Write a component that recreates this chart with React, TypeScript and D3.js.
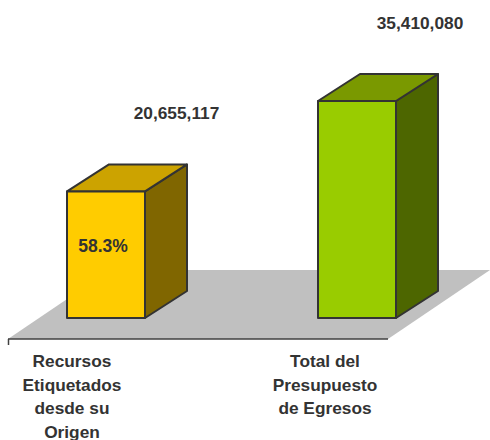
import React from "react";
import * as d3 from "d3";

const categories = [
  ["Recursos", "Etiquetados", "desde su", "Origen"],
  ["Total del", "Presupuesto", "de Egresos"],
];
const values = [20655117, 35410080];
const valueLabels = ["20,655,117", "35,410,080"];
const innerLabels = ["58.3%", ""];
const frontColors = ["#FFCC00", "#99CC00"];
const topColors = ["#CCA300", "#7A9900"];
const sideColors = ["#806600", "#4D6600"];

const W = 490;
const H = 440;
const FONT = "'Liberation Sans', Arial, sans-serif";
const TEXT = "#333333";

export default function App() {
  const keys = categories.map((c) => c.join(" "));
  const x = d3.scaleBand<string>().domain(keys).range([-19.5, 482.5]).paddingInner(0.69).paddingOuter(0.345);
  const xValueLabel = d3.scalePoint<string>().domain(keys).range([176.5, 420]);
  const xCatLabel = d3.scalePoint<string>().domain(keys).range([72, 325]);
  const y = d3.scaleLinear().domain([0, 40000000]).range([318, 72.9]);
  const dx = 42;
  const dy = -27;
  const floorDx = 102;
  const floorDy = -69;
  const floorY = 339;
  const floorL = 8;
  const floorR = 388;
  const bw = 78;
  const line = d3.line();

  return (
    <svg width={W} height={H} style={{ position: "absolute", left: 0, top: 0 }}>
      <rect x={0} y={0} width={W} height={H} fill="#FFFFFF" />
      <path
        d={line([
          [floorL, floorY],
          [floorR, floorY],
          [floorR + floorDx, floorY + floorDy],
          [floorL + floorDx, floorY + floorDy],
        ]) + "Z"}
        fill="#C0C0C0"
      />
      <line x1={floorL} y1={floorY} x2={floorR} y2={floorY} stroke="#404040" strokeWidth={1.5} />
      <line x1={floorL + 0.5} y1={floorY} x2={floorL + 0.5} y2={floorY + 6} stroke="#404040" strokeWidth={1.5} />
      {keys.map((k, i) => {
        const cx = (x(k) as number) + x.bandwidth() / 2;
        const x0 = cx - bw / 2;
        const x1 = cx + bw / 2;
        const yb = y(0);
        const yt = y(values[i]);
        return (
          <g key={k} stroke="#333333" strokeWidth={2} strokeLinejoin="round">
            <path
              d={line([[x1, yb], [x1 + dx, yb + dy], [x1 + dx, yt + dy], [x1, yt]]) + "Z"}
              fill={sideColors[i]}
            />
            <path
              d={line([[x0, yt], [x1, yt], [x1 + dx, yt + dy], [x0 + dx, yt + dy]]) + "Z"}
              fill={topColors[i]}
            />
            <rect x={x0} y={yt} width={bw} height={yb - yt} fill={frontColors[i]} />
            {innerLabels[i] && (
              <text
                x={cx - 3}
                y={252}
                textAnchor="middle"
                fontFamily={FONT}
                fontWeight="bold"
                fontSize={17.5}
                fill={TEXT}
                stroke="none"
              >
                {innerLabels[i]}
              </text>
            )}
            <text
              x={xValueLabel(k)}
              y={yt + dy - 45}
              textAnchor="middle"
              fontFamily={FONT}
              fontWeight="bold"
              fontSize={17.3}
              fill={TEXT}
              stroke="none"
            >
              {valueLabels[i]}
            </text>
          </g>
        );
      })}
      {keys.map((k, i) => {
        const cx = xCatLabel(k) as number;
        return (
          <text
            key={"c" + k}
            textAnchor="middle"
            fontFamily={FONT}
            fontWeight="bold"
            fontSize={17.3}
            fill={TEXT}
          >
            {categories[i].map((ln, j) => (
              <tspan key={j} x={cx} y={367 + j * 23.5}>
                {ln}
              </tspan>
            ))}
          </text>
        );
      })}
    </svg>
  );
}
